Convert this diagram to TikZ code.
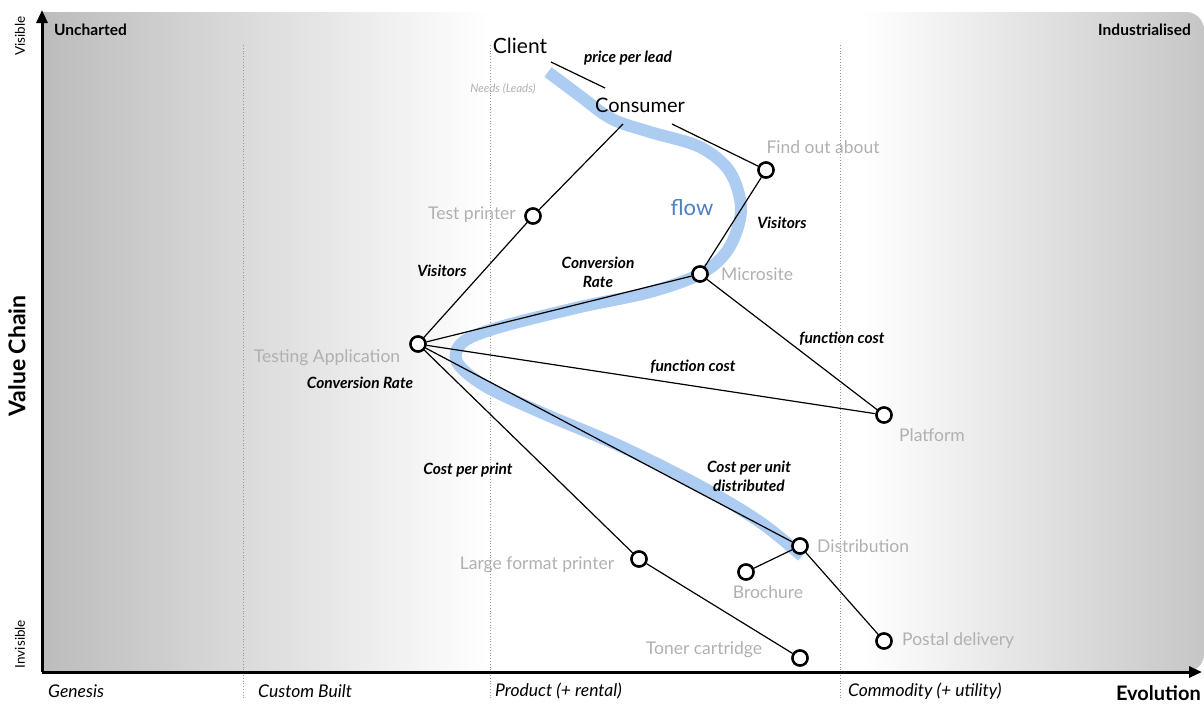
\documentclass[tikz,border=0pt]{standalone}
\usepackage{fontspec}
\setmainfont{Lato}
\usetikzlibrary{arrows.meta}
\definecolor{labgray}{RGB}{176,176,176}
\definecolor{flowblue}{RGB}{172,204,242}
\definecolor{flowtext}{RGB}{74,128,196}
\definecolor{lgray}{RGB}{188,188,188}
\definecolor{rgray}{RGB}{198,198,198}
\definecolor{divgray}{RGB}{150,150,150}
\begin{document}
\begin{tikzpicture}[x=1pt,y=-1pt,
  dot/.style={circle, draw=black, line width=2.4pt, fill=white, minimum size=15pt, inner sep=0pt},
  lab/.style={text=labgray, font=\fontsize{17.5}{19}\selectfont, inner sep=0pt},
  elab/.style={font=\fontsize{15.5}{19}\selectfont\bfseries\itshape, align=center, inner sep=0pt},
  conn/.style={line width=1.2pt},
  axlab/.style={font=\fontsize{17.5}{19}\selectfont\itshape, anchor=west, inner sep=0pt},
  divline/.style={divgray, dotted, line width=0.8pt},
  axis/.style={line width=3pt, -{Triangle[length=13pt,width=11pt]}},
  flowpath/.style={flowblue, line width=12pt},
  blk/.style={font=\fontsize{15.5}{17}\selectfont\bfseries, inner sep=0pt},
  side/.style={font=\fontsize{13.5}{15}\selectfont, rotate=90, inner sep=0pt}
]
\useasboundingbox (0,0) rectangle (1204,704);
% background
\begin{scope}
\clip[rounded corners=18pt] (-100,12) rectangle (1204,672);
\shade[left color=lgray, right color=white] (42,12) rectangle (490,672);
\shade[left color=white, right color=rgray] (860,12) rectangle (1204,672);
\end{scope}
% dividers
\draw[divline] (243,45) -- (243,700);
\draw[divline] (490,45) -- (490,700);
\draw[divline] (840,45) -- (840,700);
% axes
\coordinate (o) at (42,672);
\coordinate (ytop) at (42,10);
\coordinate (xend) at (1202,672);
\draw[axis] (o) -- (ytop);
\draw[axis] (o) -- (xend);
% axis labels
\node[blk, anchor=west] (unch) at (54,30) {Uncharted};
\node[blk, anchor=east] (indu) at (1191,30) {Industrialised};
\node[side] (vis) at (20,36) {Visible};
\node[side] (invis) at (20,644) {Invisible};
\node[font=\fontsize{23}{25}\selectfont\bfseries, rotate=90, inner sep=0pt] (vc) at (17,356) {Value Chain};
\node[axlab] (gen) at (48,691) {Genesis};
\node[axlab] (cb) at (258,691) {Custom Built};
\node[axlab] (prod) at (495,691) {Product (+ rental)};
\node[axlab] (comm) at (848,691) {Commodity (+ utility)};
\node[font=\fontsize{20}{22}\selectfont\bfseries, anchor=east, inner sep=0pt] (evo) at (1201,693) {Evolution};
% flow
\draw[flowpath] plot[smooth, tension=0.55] coordinates {(548,72) (580,96) (612,119) (650,132) (700,147) (730,172) (741,210) (729,248) (702,273) (650,292) (580,307) (500,327) (463,342) (457,362) (485,386) (540,412) (620,446) (700,486) (760,522) (802,556)};
\node[text=flowtext, font=\fontsize{22}{24}\selectfont, inner sep=0pt] (flow) at (692,208) {flow};
% top text
\node[font=\fontsize{21}{23}\selectfont, inner sep=0pt] (client) at (520,46) {Client};
\node[font=\fontsize{20}{22}\selectfont, inner sep=0pt] (consumer) at (640,105) {Consumer};
\node[text=labgray, font=\fontsize{11.5}{13}\selectfont\itshape, inner sep=0pt] (needs) at (503,89) {Needs (Leads)};
\node[elab] (ppl) at (628,58) {price per lead};
\coordinate (cl1) at (551,62);
\coordinate (co1) at (605,88);
\coordinate (co2) at (623,124);
\coordinate (co3) at (672,124);
% components
\node[dot] (tp) at (533,216) {};
\node[dot] (fo) at (766,170) {};
\node[dot] (ms) at (700,274) {};
\node[dot] (ta) at (418,344) {};
\node[dot] (pf) at (884,415) {};
\node[dot] (di) at (800,546) {};
\node[dot] (br) at (746,572) {};
\node[dot] (lf) at (639,559) {};
\node[dot] (tc) at (800,658) {};
\node[dot] (pd) at (884,641) {};
% connectors
\draw[conn] (cl1) -- (co1);
\draw[conn] (co2) -- (tp);
\draw[conn] (co3) -- (fo);
\draw[conn] (fo) -- (ms);
\draw[conn] (tp) -- (ta);
\draw[conn] (ta) -- (ms);
\draw[conn] (ms) -- (pf);
\draw[conn] (ta) -- (pf);
\draw[conn] (ta) -- (di);
\draw[conn] (ta) -- (lf);
\draw[conn] (lf) -- (tc);
\draw[conn] (di) -- (br);
\draw[conn] (di) -- (pd);
% redraw circles on top
\foreach \n in {tp,fo,ms,ta,pf,di,br,lf,tc,pd} {\node[dot] at (\n) {};}
% component labels
\node[lab, anchor=east] (tpl) at (516,215) {Test printer};
\node[lab] (fol) at (823,147) {Find out about};
\node[lab, anchor=west] (msl) at (721,274) {Microsite};
\node[lab] (tal) at (327,358) {Testing Application};
\node[lab] (pfl) at (932,435) {Platform};
\node[lab, anchor=west] (dil) at (817,546) {Distribution};
\node[lab] (brl) at (768,592) {Brochure};
\node[lab] (lfl) at (537,565) {Large format printer};
\node[lab] (tcl) at (704,650) {Toner cartridge};
\node[lab, anchor=west] (pdl) at (902,641) {Postal delivery};
% edge labels
\node[elab] (e1) at (442,271) {Visitors};
\node[elab] (e2) at (598,272) {Conversion\\Rate};
\node[elab] (e3) at (782,223) {Visitors};
\node[elab] (e4) at (842,339) {function cost};
\node[elab] (e5) at (693,367) {function cost};
\node[elab] (e6) at (360,383) {Conversion Rate};
\node[elab] (e7) at (468,470) {Cost per print};
\node[elab] (e8) at (749,476) {Cost per unit\\distributed};
\end{tikzpicture}
\end{document}
